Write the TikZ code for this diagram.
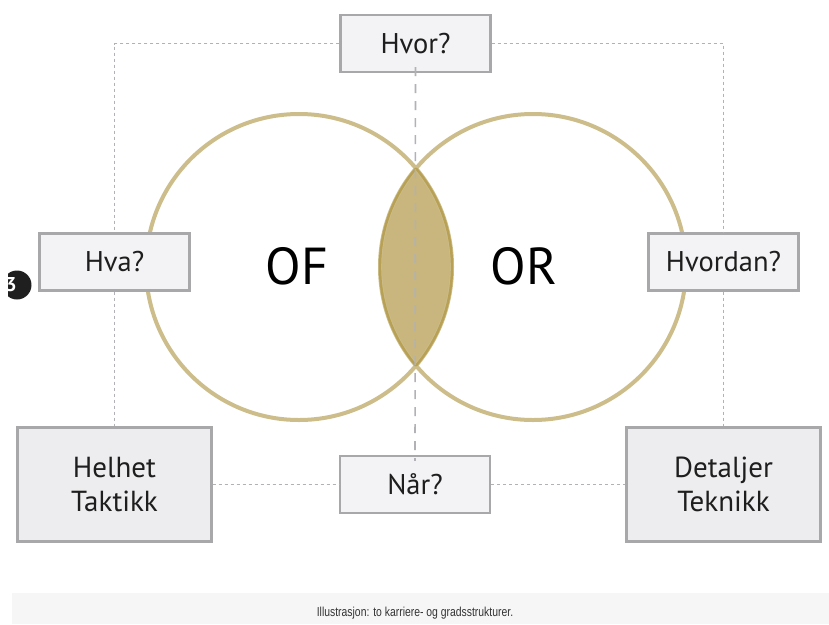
\documentclass[tikz,border=0pt]{standalone}
\usepackage{fontspec}
\setmainfont{PT Sans}
\newfontfamily\capfont[FakeStretch=0.8]{Liberation Sans}
\definecolor{ring}{RGB}{204,189,138}
\definecolor{lensfill}{RGB}{200,182,126}
\definecolor{lensline}{RGB}{184,160,84}
\definecolor{boxline}{RGB}{168,168,170}
\definecolor{boxfill}{RGB}{243,243,245}
\definecolor{bigfill}{RGB}{237,237,239}
\definecolor{guide}{RGB}{178,178,182}
\definecolor{capbar}{RGB}{246,246,246}
\definecolor{txt}{RGB}{30,30,30}
\tikzset{
  qbox/.style={draw=boxline, fill=boxfill, line width=2.4pt, inner sep=0pt,
    minimum width=150pt, minimum height=57pt, font=\fontsize{28.5}{30}\selectfont, text=txt},
  bigbox/.style={draw=boxline, fill=bigfill, line width=2.4pt, inner sep=0pt,
    minimum width=194pt, minimum height=114pt, align=center,
    font=\fontsize{29}{34}\selectfont, text=txt},
  dotline/.style={draw=guide, line width=1.5pt, dash pattern=on 3pt off 3pt},
  axisline/.style={draw=guide, line width=1.6pt, dash pattern=on 9pt off 8pt},
  bigword/.style={font=\fontsize{52}{52}\selectfont, text=black, inner sep=0pt},
}
\begin{document}
\begin{tikzpicture}[x=1pt, y=-1pt]
\useasboundingbox (0,0) rectangle (829,624);
\fill[white] (0,0) rectangle (829,624);

% circle centres
\coordinate (cl) at (299,267);
\coordinate (cr) at (533,267);

% shaded overlap of the two circles
\begin{scope}
  \clip (cl) circle (153);
  \fill[lensfill] (cr) circle (153);
\end{scope}

% the two rings
\draw[ring, line width=4pt] (cl) circle (153);
\draw[ring, line width=4pt] (cr) circle (153);

% darker rim around the overlap
\begin{scope}
  \clip (cl) circle (153);
  \draw[lensline, line width=2.4pt] (cr) circle (153);
\end{scope}
\begin{scope}
  \clip (cr) circle (153);
  \draw[lensline, line width=2.4pt] (cl) circle (153);
\end{scope}

% boxes
\node[qbox] (hvor) at (415.5,43.5) {Hvor?};
\node[qbox] (hva) at (114.5,262) {Hva?};
\node[qbox] (hvordan) at (723.5,262) {Hvordan?};
\node[qbox] (naar) at (415,484.5) {Når?};
\node[bigbox] (helhet) at (114.5,484.5) {Helhet\\Taktikk};
\node[bigbox] (detaljer) at (723.5,484.5) {Detaljer\\Teknikk};

% frame of dotted guide lines
\coordinate (tl) at (hva.north |- hvor.west);
\coordinate (tr) at (hvordan.north |- hvor.east);
\draw[dotline] (hvor.west) -- (tl) -- (hva.north);
\draw[dotline] (hvor.east) -- (tr) -- (hvordan.north);
\draw[dotline] (hva.south) -- (helhet.north);
\draw[dotline] (hvordan.south) -- (detaljer.north);
\draw[dotline] (helhet.east) -- (naar.west);
\draw[dotline] (naar.east) -- (detaljer.west);

% vertical axis through the overlap
\draw[axisline] ([yshift=6pt]hvor.south) -- ([yshift=-6pt]naar.north);

% circle labels
\node[bigword] (of) at (297,266) {OF};
\node[bigword] (or) at (524,266) {OR};

% navigation button at the left edge
\begin{scope}
  \clip (8,260) rectangle (40,310);
  \fill[black!88] (17,285) circle (14.5);
  \node[text=white, font=\bfseries\fontsize{20}{20}\selectfont, inner sep=0pt] (btn) at (11,285) {3};
\end{scope}

% caption bar
\fill[capbar] (12,593) rectangle (829,624);
\node[font=\capfont\fontsize{13}{14}\selectfont, text=black!80, inner sep=0pt] (caption) at (415,613) {Illustrasjon: to karriere- og gradsstrukturer.};
\end{tikzpicture}
\end{document}
